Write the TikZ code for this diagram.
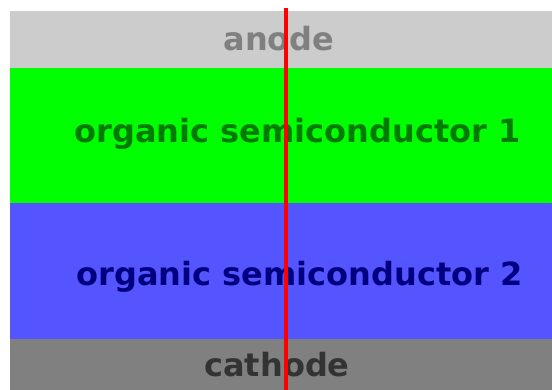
\documentclass[tikz,border=0pt]{standalone}
\usepackage{fontspec}
\setmainfont{DejaVu Sans}
\usetikzlibrary{positioning}

\definecolor{anodegray}{HTML}{CCCCCC}
\definecolor{cathodegray}{HTML}{808080}
\definecolor{osgreen}{HTML}{00FF00}
\definecolor{osblue}{HTML}{5555FF}
\definecolor{osgreentext}{HTML}{007A00}
\definecolor{osbluetext}{HTML}{000080}

\begin{document}
\begin{tikzpicture}[x=1pt, y=-1pt,
  every layer/.style={rectangle, inner sep=0pt, outer sep=0pt, anchor=north west, minimum width=542pt},
  every label/.style={anchor=base, font=\fontsize{32}{38}\selectfont\bfseries}]
\useasboundingbox (0,0) rectangle (552,390);

% stack of layers, top to bottom
\foreach \n/\top/\h/\c in {anode/11/57/anodegray, os1/68/135/osgreen, os2/203/136/osblue, cathode/339/51/cathodegray}
  \node [every layer, fill=\c, minimum height=\h pt] (layer-\n) at (10,\top) {};

% names of the layers
\foreach \n/\x/\y/\c/\t in {anode/279/51/cathodegray/anode,
                            os1/297.5/143/osgreentext/organic semiconductor 1,
                            os2/299.5/286/osbluetext/organic semiconductor 2,
                            cathode/277/376/black!80/cathode}
  \node [every label, text=\c] (name-\n) at (\x,\y) {\t};

% cut line through the stack
\coordinate (cut-top) at (285.5,8);
\coordinate (cut-bottom) at (285.5,390);
\draw [red, line width=4pt] (cut-top) -- (cut-bottom);
\end{tikzpicture}
\end{document}
